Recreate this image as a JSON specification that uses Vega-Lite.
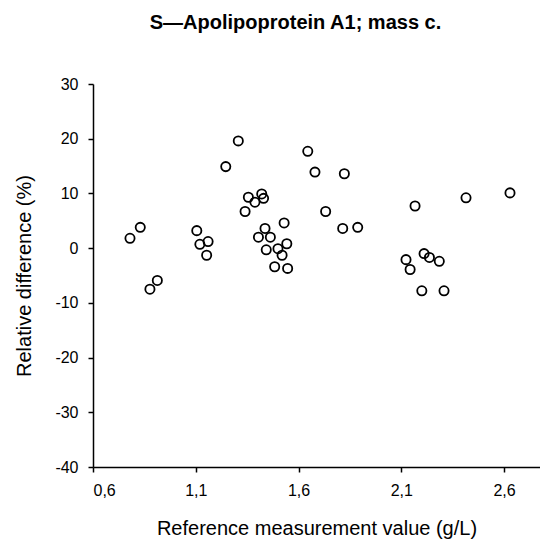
{
  "$schema": "https://vega.github.io/schema/vega-lite/v6.json",
  "autosize": {"type": "none"},
  "width": 447,
  "height": 383,
  "padding": {"left": 93, "top": 84, "right": 0, "bottom": 77},
  "background": "white",
  "config": {
    "view": {"stroke": null},
    "font": "Liberation Sans"
  },
  "title": {
    "text": "S—Apolipoprotein A1; mass c.",
    "fontSize": 20,
    "fontWeight": "bold",
    "font": "Liberation Sans",
    "color": "black",
    "anchor": "middle",
    "dx": -21,
    "offset": 43
  },
  "data": {
    "values": [
      {"ref": 0.78, "diff": 1.8},
      {"ref": 0.83, "diff": 3.8},
      {"ref": 0.877, "diff": -7.5},
      {"ref": 0.913, "diff": -5.9},
      {"ref": 1.105, "diff": 3.2},
      {"ref": 1.12, "diff": 0.7},
      {"ref": 1.16, "diff": 1.2},
      {"ref": 1.153, "diff": -1.3},
      {"ref": 1.246, "diff": 14.9},
      {"ref": 1.307, "diff": 19.6},
      {"ref": 1.34, "diff": 6.7},
      {"ref": 1.356, "diff": 9.3},
      {"ref": 1.388, "diff": 8.4},
      {"ref": 1.421, "diff": 9.9},
      {"ref": 1.43, "diff": 9.1},
      {"ref": 1.437, "diff": 3.6},
      {"ref": 1.405, "diff": 2.0},
      {"ref": 1.463, "diff": 2.0},
      {"ref": 1.443, "diff": -0.3},
      {"ref": 1.5, "diff": -0.1},
      {"ref": 1.53, "diff": 4.6},
      {"ref": 1.543, "diff": 0.8},
      {"ref": 1.52, "diff": -1.3},
      {"ref": 1.484, "diff": -3.4},
      {"ref": 1.547, "diff": -3.7},
      {"ref": 1.645, "diff": 17.7},
      {"ref": 1.68, "diff": 13.9},
      {"ref": 1.823, "diff": 13.6},
      {"ref": 1.732, "diff": 6.7},
      {"ref": 1.815, "diff": 3.6},
      {"ref": 1.888, "diff": 3.8},
      {"ref": 2.167, "diff": 7.7},
      {"ref": 2.415, "diff": 9.2},
      {"ref": 2.629, "diff": 10.1},
      {"ref": 2.123, "diff": -2.1},
      {"ref": 2.143, "diff": -3.9},
      {"ref": 2.211, "diff": -1.0},
      {"ref": 2.237, "diff": -1.7},
      {"ref": 2.285, "diff": -2.4},
      {"ref": 2.2, "diff": -7.8},
      {"ref": 2.308, "diff": -7.8}
    ]
  },
  "mark": {"type": "point", "shape": "circle", "filled": false, "stroke": "black", "strokeWidth": 1.8, "size": 85, "opacity": 1},
  "encoding": {
    "x": {
      "field": "ref",
      "type": "quantitative",
      "scale": {"domain": [0.6, 2.775], "nice": false, "zero": false},
      "axis": {
        "title": "Reference measurement value (g/L)",
        "values": [0.6, 1.1, 1.6, 2.1, 2.6],
        "labelExpr": "replace(format(datum.value, '.1f'), '.', ',')",
        "grid": false,
        "domainColor": "black",
        "domainWidth": 1.5,
        "tickColor": "black",
        "tickWidth": 1.5,
        "tickSize": 5,
        "labelPadding": 10,
        "labelFontSize": 16,
        "labelColor": "black",
        "labelFont": "Liberation Sans",
        "titleFontSize": 20,
        "titleFontWeight": "normal",
        "titleColor": "black",
        "titleFont": "Liberation Sans",
        "titlePadding": 20
      }
    },
    "y": {
      "field": "diff",
      "type": "quantitative",
      "scale": {"domain": [-40, 30], "nice": false, "zero": false},
      "axis": {
        "title": "Relative difference (%)",
        "values": [-40, -30, -20, -10, 0, 10, 20, 30],
        "labelExpr": "datum.value < 0 ? '-' + abs(datum.value) : '' + datum.value",
        "grid": false,
        "domainColor": "black",
        "domainWidth": 1.5,
        "tickColor": "black",
        "tickWidth": 1.5,
        "tickSize": 5,
        "labelPadding": 10,
        "labelFontSize": 16,
        "labelColor": "black",
        "labelFont": "Liberation Sans",
        "titleFontSize": 20,
        "titleFontWeight": "normal",
        "titleColor": "black",
        "titleFont": "Liberation Sans",
        "titlePadding": 20
      }
    }
  }
}
